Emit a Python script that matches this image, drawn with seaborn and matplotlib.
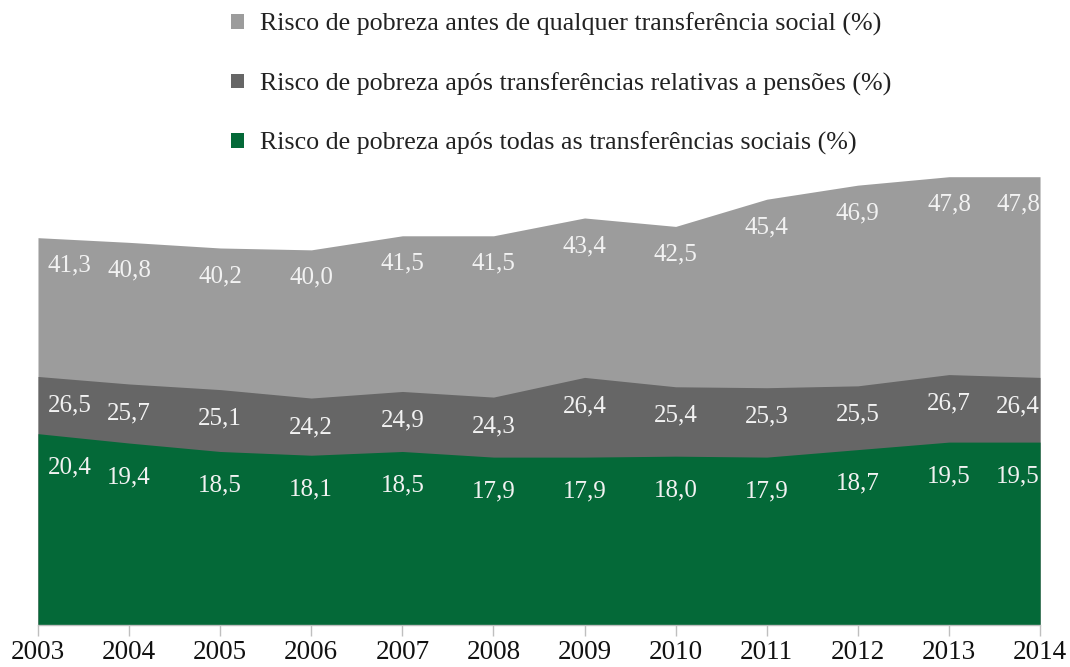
import matplotlib
matplotlib.use("Agg")
import matplotlib.pyplot as plt
from matplotlib.patches import Patch
import seaborn as sns
import pandas as pd

years = [2003, 2004, 2005, 2006, 2007, 2008, 2009, 2010, 2011, 2012, 2013, 2014]
antes = [41.3, 40.8, 40.2, 40.0, 41.5, 41.5, 43.4, 42.5, 45.4, 46.9, 47.8, 47.8]
pensoes = [26.5, 25.7, 25.1, 24.2, 24.9, 24.3, 26.4, 25.4, 25.3, 25.5, 26.7, 26.4]
todas = [20.4, 19.4, 18.5, 18.1, 18.5, 17.9, 17.9, 18.0, 17.9, 18.7, 19.5, 19.5]

series_names = [
    "Risco de pobreza antes de qualquer transferência social (%)",
    "Risco de pobreza após transferências relativas a pensões (%)",
    "Risco de pobreza após todas as transferências sociais (%)",
]
colors = ["#9c9c9c", "#666666", "#046938"]

sns.set_theme(style="white")
plt.rcParams["font.family"] = ["Liberation Serif", "DejaVu Serif"]

df = pd.DataFrame({"ano": years, "antes": antes, "pensoes": pensoes, "todas": todas})

fig = plt.figure(figsize=(10.7, 6.67), dpi=100)
ax = fig.add_axes([0.0355, 0.063, 0.9365, 0.703])

label_offsets = [-28, -29, -34]
for col, color, off in zip(["antes", "pensoes", "todas"], colors, label_offsets):
    sns.lineplot(data=df, x="ano", y=col, ax=ax, color=color, linewidth=0)
    ax.fill_between(df["ano"], 0, df[col], color=color, linewidth=0, zorder=2)
    for i, (x, v) in enumerate(zip(df["ano"], df[col])):
        if i == 0:
            ha, dx = "left", 10
        elif i == len(years) - 1:
            ha, dx = "right", 0
        else:
            ha, dx = "center", 0
        ax.annotate(f"{v:.1f}".replace(".", ","), (x, v), xytext=(dx, off),
                    textcoords="offset pixels", ha=ha, va="center",
                    fontsize=18, color="#f2f2f2", zorder=5)

ax.set_xlim(2003, 2014)
ax.set_ylim(0, 50)
ax.set_xticks(years)
ax.set_xticklabels([str(y) for y in years], fontsize=19.5, color="#111111")
ax.set_yticks([])
ax.set_xlabel("")
ax.set_ylabel("")
for side in ["top", "left", "right"]:
    ax.spines[side].set_visible(False)
ax.spines["bottom"].set_color("#bfbfbf")
ax.spines["bottom"].set_linewidth(1)
ax.tick_params(axis="x", which="major", direction="out", length=8, width=1,
               color="#bfbfbf", bottom=True, pad=3)

handles = [Patch(facecolor=c, edgecolor="none") for c in colors]
fig.legend(handles, series_names, loc="upper left", bbox_to_anchor=(0.204, 1.0),
           frameon=False, fontsize=18.7, labelcolor="#222222",
           handlelength=0.5, handleheight=0.5, handletextpad=0.6,
           labelspacing=1.38, borderaxespad=0.1)

fig.savefig("out.png", dpi=100)
